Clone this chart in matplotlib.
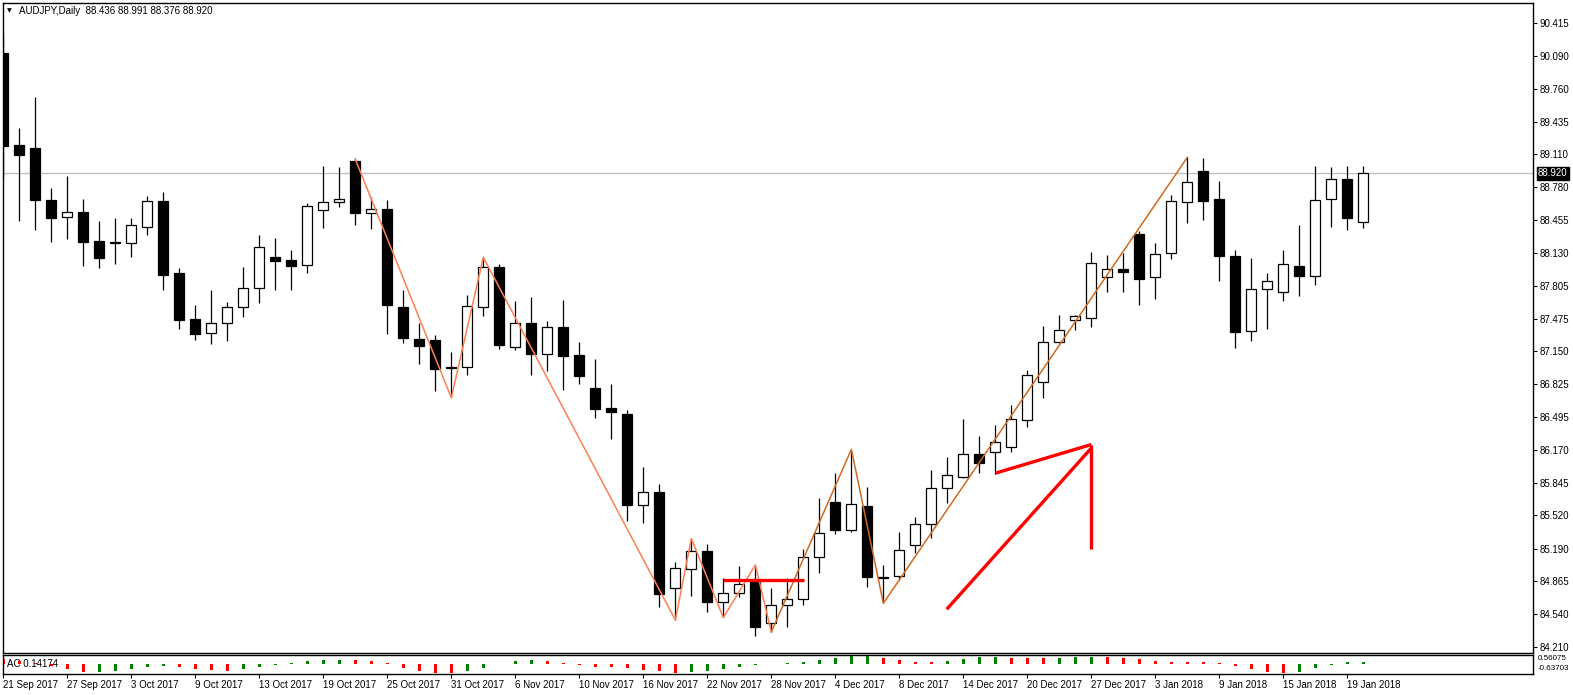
import matplotlib
matplotlib.use("Agg")
import matplotlib.pyplot as plt
import matplotlib.transforms as mtransforms
import numpy as np

plt.rcParams['font.family'] = ['Liberation Sans', 'DejaVu Sans']

# ---------------- data ----------------
symbol = "AUDJPY,Daily"
header_values = "88.436 88.991 88.376 88.920"

opens = [90.117, 89.203, 89.173, 88.656, 88.487, 88.537, 88.248, 88.229, 88.229, 88.388,
         88.646, 87.930, 87.473, 87.334, 87.433, 87.592, 87.781, 88.089, 88.060, 88.010,
         88.557, 88.636, 89.044, 88.527, 88.567, 87.592, 87.274, 87.264, 86.996, 86.996,
         87.592, 87.990, 87.195, 87.433, 87.125, 87.394, 87.115, 86.787, 86.589, 86.529,
         85.624, 85.754, 84.799, 84.988, 85.167, 84.660, 84.750, 84.869, 84.451, 84.630,
         84.690, 85.108, 85.654, 85.376, 85.614, 84.908, 84.918, 85.227, 85.436, 85.793,
         85.903, 86.131, 86.151, 86.201, 86.469, 86.847, 87.244, 87.463, 87.483, 87.890,
         87.970, 88.318, 87.890, 88.129, 88.636, 88.944, 88.666, 88.099, 87.354, 87.771,
         87.741, 88.000, 87.900, 88.666, 88.865, 88.436]
highs = [90.316, 89.372, 89.680, 88.775, 88.895, 88.666, 88.447, 88.477, 88.477, 88.696,
         88.736, 87.980, 87.612, 87.761, 87.642, 87.990, 88.308, 88.278, 88.159, 88.626,
         88.994, 88.984, 89.073, 88.686, 88.656, 87.761, 87.433, 87.314, 87.145, 87.712,
         88.079, 88.020, 87.652, 87.692, 87.453, 87.662, 87.244, 87.076, 86.827, 86.569,
         86.002, 85.833, 85.058, 85.286, 85.237, 84.899, 85.018, 85.018, 84.799, 84.899,
         85.187, 85.694, 85.942, 86.171, 85.803, 85.028, 85.356, 85.505, 85.972, 86.101,
         86.479, 86.310, 86.420, 86.618, 86.966, 87.403, 87.513, 87.513, 88.139, 88.109,
         88.129, 88.348, 88.229, 88.706, 89.083, 89.073, 88.845, 88.159, 88.079, 87.930,
         88.159, 88.408, 88.994, 88.984, 88.990, 88.991]
lows = [88.885, 88.447, 88.358, 88.239, 88.268, 88.000, 87.980, 88.020, 88.089, 88.308,
        87.761, 87.374, 87.264, 87.225, 87.254, 87.493, 87.632, 87.761, 87.761, 87.930,
        88.378, 88.586, 88.408, 88.368, 87.324, 87.235, 87.026, 86.757, 86.698, 86.917,
        87.503, 87.175, 87.165, 86.917, 86.956, 86.767, 86.827, 86.489, 86.280, 85.465,
        85.445, 84.610, 84.481, 84.720, 84.561, 84.511, 84.710, 84.322, 84.362, 84.412,
        84.630, 84.948, 85.336, 85.356, 84.809, 84.650, 84.879, 85.147, 85.296, 85.644,
        85.893, 85.942, 85.932, 86.151, 86.400, 86.688, 87.235, 87.364, 87.394, 87.741,
        87.741, 87.612, 87.672, 88.070, 88.427, 88.457, 87.851, 87.185, 87.254, 87.374,
        87.652, 87.702, 87.811, 88.388, 88.358, 88.376]
closes = [89.193, 89.104, 88.656, 88.477, 88.537, 88.239, 88.079, 88.239, 88.408, 88.646,
          87.911, 87.463, 87.324, 87.433, 87.592, 87.781, 88.189, 88.050, 88.000, 88.596,
          88.636, 88.666, 88.527, 88.567, 87.612, 87.284, 87.205, 86.976, 86.986, 87.602,
          87.990, 87.215, 87.433, 87.125, 87.394, 87.105, 86.907, 86.579, 86.549, 85.624,
          85.754, 84.740, 84.998, 85.167, 84.660, 84.750, 84.839, 84.412, 84.630, 84.690,
          85.108, 85.346, 85.376, 85.634, 84.908, 84.899, 85.177, 85.436, 85.793, 85.923,
          86.131, 86.042, 86.250, 86.479, 86.917, 87.244, 87.364, 87.503, 88.030, 87.970,
          87.940, 87.871, 88.119, 88.646, 88.835, 88.646, 88.099, 87.344, 87.771, 87.851,
          88.020, 87.900, 88.656, 88.865, 88.477, 88.920]

date_tick_bars = [0, 4, 8, 12, 16, 20, 24, 28, 32, 36, 40, 44, 48, 52, 56, 60, 64, 68, 72, 76, 80, 84]
date_tick_labels = ["21 Sep 2017", "27 Sep 2017", "3 Oct 2017", "9 Oct 2017", "13 Oct 2017",
                    "19 Oct 2017", "25 Oct 2017", "31 Oct 2017", "6 Nov 2017", "10 Nov 2017",
                    "16 Nov 2017", "22 Nov 2017", "28 Nov 2017", "4 Dec 2017", "8 Dec 2017",
                    "14 Dec 2017", "20 Dec 2017", "27 Dec 2017", "3 Jan 2018", "9 Jan 2018",
                    "15 Jan 2018", "19 Jan 2018"]

price_ticks = [90.415, 90.090, 89.760, 89.435, 89.110, 88.780, 88.455, 88.130, 87.805, 87.475,
               87.150, 86.825, 86.495, 86.170, 85.845, 85.520, 85.190, 84.865, 84.540, 84.210]
last_price = 88.920

ac_label = "AC 0.14174"
ac_scale_labels = ["0.56075", "-0.63703"]
ac_values = [0.35, 0.20, 0.05, -0.10, -0.35, -0.51, -0.51, -0.47, -0.35, -0.22,
             -0.16, -0.22, -0.35, -0.40, -0.44, -0.35, -0.22, -0.05, 0.09, 0.20,
             0.27, 0.28, 0.26, 0.20, 0.07, -0.27, -0.44, -0.62, -0.63, -0.44,
             -0.27, 0.03, 0.20, 0.27, 0.20, 0.05, -0.05, -0.17, -0.18, -0.27,
             -0.40, -0.47, -0.60, -0.53, -0.44, -0.35, -0.18, -0.05, -0.03, 0.05,
             0.13, 0.27, 0.40, 0.52, 0.53, 0.40, 0.27, 0.14, 0.13, 0.20,
             0.33, 0.46, 0.47, 0.42, 0.40, 0.39, 0.40, 0.46, 0.47, 0.46,
             0.40, 0.33, 0.20, 0.14, 0.13, 0.12, 0.07, -0.10, -0.33, -0.53,
             -0.60, -0.53, -0.27, -0.05, 0.13, 0.14]
ac_up = [0, 0, 0, 0, 0, 0, 1, 1, 1, 1,
         1, 0, 0, 0, 0, 1, 1, 1, 1, 1,
         1, 1, 0, 0, 0, 0, 0, 0, 0, 1,
         1, 1, 1, 1, 0, 0, 0, 0, 0, 0,
         0, 0, 0, 1, 1, 1, 1, 1, 1, 1,
         1, 1, 1, 1, 1, 0, 0, 0, 0, 1,
         1, 1, 1, 0, 0, 0, 1, 1, 1, 0,
         0, 0, 0, 0, 0, 0, 0, 0, 0, 0,
         0, 1, 1, 1, 1, 1]

zigzag1_bars = [22, 28, 30, 42, 43, 45, 47, 48]
zigzag1_prices = [89.06, 86.69, 88.086, 84.481, 85.29, 84.504, 85.028, 84.362]
zigzag2_bars = [48, 53, 55, 74]
zigzag2_prices = [84.362, 86.177, 84.647, 89.08]

red_hline_bars = [44.96, 50.04]
red_hline_prices = [84.875, 84.875]
red_upper_bars = [62.0, 68.0]
red_upper_prices = [85.94, 86.225]
red_lower_bars = [58.96, 68.0]
red_lower_prices = [84.587, 86.19]
red_vert_bars = [68.0, 68.0]
red_vert_prices = [86.225, 85.186]

# ---------------- figure ----------------
W, H = 1573, 695
FS = 7
fig = plt.figure(figsize=(W / 100, H / 100), dpi=100)
fig.patch.set_facecolor('white')

ax = fig.add_axes([2.5 / W, 42 / H, 1530.5 / W, 650.5 / H])
ax2 = fig.add_axes([2.5 / W, 21 / H, 1530.5 / W, 19.3 / H])

n = len(opens)
xs = np.arange(n)
o = np.array(opens); c = np.array(closes); hi = np.array(highs); lo = np.array(lows)

ax.vlines(xs, lo, hi, color='black', lw=0.9, zorder=2)
up = c >= o
body_bottom = np.minimum(o, c)
body_h = np.maximum(np.abs(c - o), 0.012)
ax.bar(xs[up], body_h[up], bottom=body_bottom[up], width=0.62, color='white',
       edgecolor='black', linewidth=0.9, zorder=3)
ax.bar(xs[~up], body_h[~up], bottom=body_bottom[~up], width=0.62, color='black',
       edgecolor='black', linewidth=0.9, zorder=3)

ax.axhline(last_price, color='#C0C0C0', lw=1.0, zorder=1)

ax.plot(zigzag1_bars, zigzag1_prices, color='#FF7F50', lw=1.1, zorder=4)
ax.plot(zigzag2_bars, zigzag2_prices, color='#D2691E', lw=1.1, zorder=4)

for bx, py in [(red_hline_bars, red_hline_prices), (red_upper_bars, red_upper_prices),
               (red_lower_bars, red_lower_prices), (red_vert_bars, red_vert_prices)]:
    ax.plot(bx, py, color='#FF0000', lw=2.4, zorder=5, solid_capstyle='butt')

ax.set_xlim(-0.05, 95.6)
ax.set_ylim(84.1525, 90.6188)
ax.set_xticks([])
ax.yaxis.tick_right()
ax.set_yticks(price_ticks)
ax.set_yticklabels([f"{v:.3f}" for v in price_ticks])
ax.tick_params(axis='y', direction='out', length=3, width=0.8, pad=2, labelsize=FS, colors='black')
for sp in ax.spines.values():
    sp.set_color('black'); sp.set_linewidth(1.0)

trans = mtransforms.blended_transform_factory(ax.transAxes, ax.transData)
ax.text(1.0 + 5 / 1530.5, last_price, f"{last_price:.3f}", transform=trans, color='white',
        fontsize=FS, va='center', ha='left', zorder=10, clip_on=False,
        bbox=dict(facecolor='black', edgecolor='black', pad=0.9))

# ---------------- AC pane ----------------
ac_cols = ['#008000' if u else '#FF0000' for u in ac_up]
ax2.bar(xs, ac_values, width=0.18, color=ac_cols, zorder=2)
ax2.set_xlim(-0.05, 95.6)
ax2.set_ylim(-0.665, 0.62)
ax2.set_yticks([])
ax2.set_xticks(date_tick_bars)
ax2.set_xticklabels(date_tick_labels)
for lbl in ax2.get_xticklabels():
    lbl.set_ha('left')
ax2.tick_params(axis='x', direction='out', length=3, width=0.8, pad=1.5, labelsize=FS)
for sp in ax2.spines.values():
    sp.set_color('black'); sp.set_linewidth(1.0)

ax2.text(4.5 / 1530.5, 0.50, ac_label, transform=ax2.transAxes, fontsize=FS,
         va='center', ha='left', zorder=5)
ax2.text(1.0 + 5 / 1530.5, 0.80, ac_scale_labels[0], transform=ax2.transAxes, fontsize=5.8,
         va='center', ha='left', clip_on=False)
ax2.text(1.0 + 5 / 1530.5, 0.30, ac_scale_labels[1], transform=ax2.transAxes, fontsize=5.8,
         va='center', ha='left', clip_on=False)

# ---------------- header ----------------
fig.text(7 / W, 1 - 11 / H, "\u25BC", fontsize=4.5, va='center', ha='left',
         family=['DejaVu Sans'])
fig.text(19 / W, 1 - 11 / H, f"{symbol}  {header_values}", fontsize=FS, va='center', ha='left')

fig.savefig("out.png", dpi=100)
